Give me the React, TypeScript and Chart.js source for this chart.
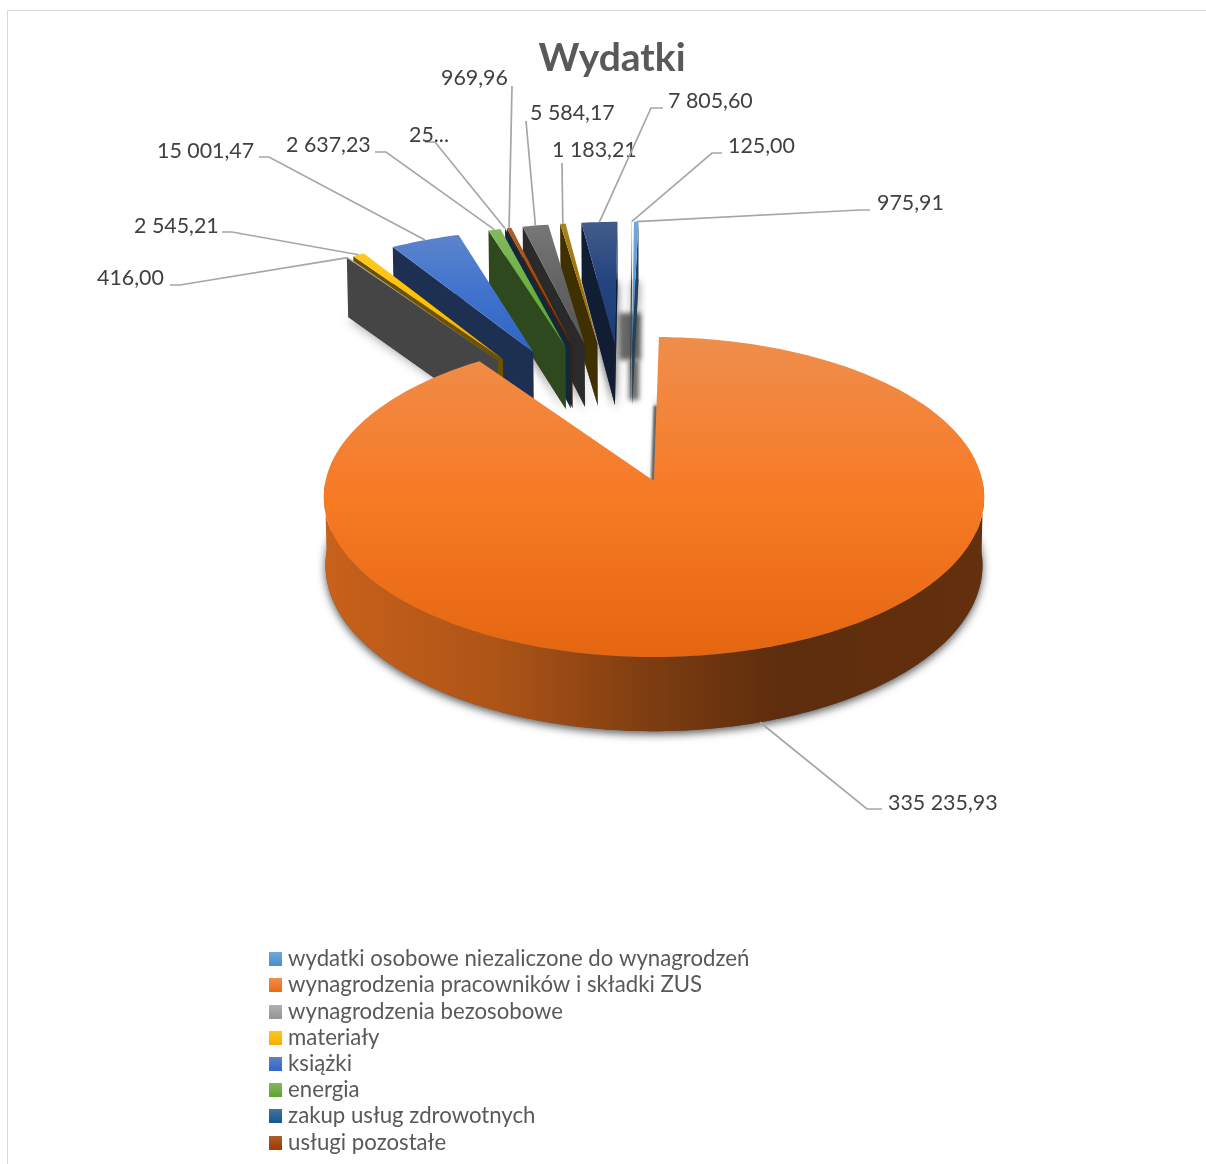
import React, { useEffect, useRef } from "react";
import { Chart, registerables } from "chart.js";

Chart.register(...registerables);

// ---- data ----
const categories = [
  "wydatki osobowe niezaliczone do wynagrodzeń",
  "wynagrodzenia pracowników i składki ZUS",
  "wynagrodzenia bezosobowe",
  "materiały",
  "książki",
  "energia",
  "zakup usług zdrowotnych",
  "usługi pozostałe",
];
const values = [975.91, 335235.93, 416.0, 2545.21, 15001.47, 2637.23, 25, 969.96, 5584.17, 1183.21, 7805.6, 125.0];
const valueLabels = [
  "975,91", "335 235,93", "416,00", "2 545,21", "15 001,47", "2 637,23",
  "25...", "969,96", "5 584,17", "1 183,21", "7 805,60", "125,00",
];
const sliceColors = [
  "#5B9BD5", "#ED7D31", "#A5A5A5", "#FFC000", "#4472C4", "#70AD47",
  "#255E91", "#9E480E", "#636363", "#997300", "#264478", "#B4C4C4",
];

// ---- style / layout ----
const FONT = "Lato, Carlito, Calibri, sans-serif";
const RADIUS = 300;
const EXPLODE_MAJOR = 0.207 * RADIUS;
const EXPLODE_MINOR = 0.76 * RADIUS;
const MINOR_SHIFT_X = -0.0185;
const offsets = values.map((_, i) => (i === 1 ? EXPLODE_MAJOR : EXPLODE_MINOR));
const DRAW_ORDER = [11, 10, 9, 8, 7, 6, 5, 4, 3, 2, 0, 1];
const labelLayout = [
  { tx: 877, ty: 203, x1: 870, x2: 860, y: 210 },
  { tx: 888, ty: 803, x1: 882, x2: 867, y: 809 },
  { tx: 97, ty: 278, x1: 170, x2: 180, y: 285 },
  { tx: 134, ty: 226, x1: 222, x2: 232, y: 232 },
  { tx: 157, ty: 151, x1: 259, x2: 269, y: 157 },
  { tx: 286, ty: 145, x1: 375, x2: 386, y: 152 },
  { tx: 409, ty: 135, x1: 425, x2: 435, y: 142 },
  { tx: 441, ty: 78, x1: 512, x2: 512, y: 86 },
  { tx: 530, ty: 113, x1: 526, x2: 526, y: 121 },
  { tx: 552, ty: 150, x1: 562, x2: 562, y: 163 },
  { tx: 668, ty: 101, x1: 663, x2: 651, y: 108 },
  { tx: 728, ty: 146, x1: 722, x2: 712, y: 153 },
];
const VIEW = { ox: 654, oy: 481, A: 328.5, B: 158.4, k: 0.1, m: 0.005, D: 68 };

type RGB = [number, number, number];
const hexToRgb = (h: string): RGB => [parseInt(h.slice(1, 3), 16), parseInt(h.slice(3, 5), 16), parseInt(h.slice(5, 7), 16)];
const css = (c: RGB) => `rgb(${c.map((v) => Math.max(0, Math.min(255, Math.round(v)))).join(",")})`;
const tint = (c: RGB, t: number): RGB => c.map((v) => v + (255 - v) * t) as RGB;
const shade = (c: RGB, f: number): RGB => c.map((v) => v * f) as RGB;
const saturate = (c: RGB, s: number): RGB => {
  const l = 0.3 * c[0] + 0.59 * c[1] + 0.11 * c[2];
  return c.map((v) => v + (v - l) * s) as RGB;
};

function project(X: number, Y: number, Z: number) {
  const w = 1 - VIEW.k * Y + VIEW.m * Z;
  return { x: VIEW.ox + (VIEW.A * X) / w, y: VIEW.oy + (VIEW.B * Y + VIEW.D * Z) / w };
}

function tracePath(ctx: CanvasRenderingContext2D, pts: { x: number; y: number }[]) {
  ctx.beginPath();
  pts.forEach((p, i) => (i ? ctx.lineTo(p.x, p.y) : ctx.moveTo(p.x, p.y)));
  ctx.closePath();
}

function area(pts: { x: number; y: number }[]) {
  let s = 0;
  pts.forEach((p, i) => {
    const q = pts[(i + 1) % pts.length];
    s += p.x * q.y - q.x * p.y;
  });
  return s;
}

function makeSwatch(hex: string) {
  const c = document.createElement("canvas");
  c.width = 14;
  c.height = 14;
  const g = c.getContext("2d")!;
  const rgb = hexToRgb(hex);
  const lg = g.createLinearGradient(0, 0, 0, 14);
  lg.addColorStop(0, css(tint(rgb, 0.13)));
  lg.addColorStop(1, css(shade(saturate(rgb, 0.3), 0.9)));
  g.fillStyle = lg;
  g.fillRect(0, 0, 14, 14);
  return c;
}

const pie3d = {
  id: "pie3d",
  afterLayout(chart: any) {
    const legend = chart.legend;
    if (legend) {
      const pad = legend.options.labels.padding;
      legend.left = 273 - pad;
      legend.top = 948 - pad;
      legend.right = 1206;
      legend.bottom = 1400;
      legend.width = legend.right - legend.left;
      legend.height = legend.bottom - legend.top;
    }
    if (chart.titleBlock) {
      chart.titleBlock.left += 9;
      chart.titleBlock.right += 9;
    }
  },
  beforeDatasetsDraw(chart: any) {
    const ctx: CanvasRenderingContext2D = chart.ctx;
    const arcs = chart.getDatasetMeta(0).data;
    const main = arcs[1];
    const mainMid = (main.startAngle + main.endAngle) / 2;
    const R = main.outerRadius;
    const cx = (-Math.cos(mainMid) * main.options.offset) / R;
    const cy = (-Math.sin(mainMid) * main.options.offset) / R;

    const geometry = (arc: any) => {
      const mid = (arc.startAngle + arc.endAngle) / 2;
      const ax = cx + (Math.cos(mid) * arc.options.offset) / R + (arc === main ? 0 : MINOR_SHIFT_X);
      const ay = cy + (Math.sin(mid) * arc.options.offset) / R;
      const r = arc.outerRadius / R;
      return {
        mid,
        at: (a: number, rr: number, z: number) => project(ax + rr * r * Math.cos(a), ay + rr * r * Math.sin(a), z),
      };
    };

    const arcPoints = (arc: any, z: number) => {
      const g = geometry(arc);
      const n = Math.max(2, Math.ceil((arc.endAngle - arc.startAngle) / 0.02));
      const pts = [];
      for (let i = 0; i <= n; i++) pts.push(g.at(arc.startAngle + ((arc.endAngle - arc.startAngle) * i) / n, 1, z));
      return pts;
    };

    ctx.save();
    // blurred shadow block visible above the notch
    ctx.filter = "blur(2.5px)";
    ctx.fillStyle = "#6a6a6a";
    ctx.fillRect(619, 313, 22, 47);
    ctx.fillStyle = "#707070";
    ctx.fillRect(629, 360, 10, 40);
    ctx.filter = "none";

    DRAW_ORDER.forEach((i) => {
      const arc = arcs[i];
      const g = geometry(arc);
      const base = hexToRgb(sliceColors[i]);
      const apex0 = g.at(g.mid, 0, 0);
      const apex1 = g.at(g.mid, 0, 1);
      const top = [apex0, ...arcPoints(arc, 0)];
      const bottom = [apex1, ...arcPoints(arc, 1)];

      // soft shadow cast from the bottom face
      ctx.save();
      ctx.shadowColor = "rgba(0,0,0,0.65)";
      ctx.shadowBlur = 8;
      ctx.shadowOffsetY = 3;
      ctx.fillStyle = "#555";
      tracePath(ctx, bottom);
      ctx.fill();
      ctx.restore();
      if (i === 1) {
        // soft dark edge next to the notch
        ctx.save();
        ctx.filter = "blur(1px)";
        ctx.strokeStyle = "#5f5f5f";
        ctx.lineWidth = 4;
        ctx.beginPath();
        const e = g.at(arc.startAngle, 0.5, 0);
        ctx.moveTo(apex0.x - 1, apex0.y);
        ctx.lineTo(e.x - 1, e.y);
        ctx.stroke();
        ctx.restore();
      }

      // radial walls
      const startWall = [apex0, g.at(arc.startAngle, 1, 0), g.at(arc.startAngle, 1, 1), apex1];
      const endWall = [apex0, g.at(arc.endAngle, 1, 0), g.at(arc.endAngle, 1, 1), apex1];
      ctx.fillStyle = css(shade(base, 0.42));
      if (area(startWall) < 0) {
        tracePath(ctx, startWall);
        ctx.fill();
      }
      if (area(endWall) > 0) {
        tracePath(ctx, endWall);
        ctx.fill();
      }

      // outer wall, front part only
      const n = Math.ceil((arc.endAngle - arc.startAngle) / 0.01);
      const upper = [];
      const lower = [];
      for (let s = 0; s <= n; s++) {
        const a = arc.startAngle + ((arc.endAngle - arc.startAngle) * s) / n;
        if (Math.sin(a) > 0.02) {
          upper.push(g.at(a, 1, 0));
          lower.push(g.at(a, 1, 1));
        }
      }
      if (upper.length > 1) {
        const lg = ctx.createLinearGradient(327, 0, 985, 0);
        [[0, 0.8], [0.26, 0.69], [0.49, 0.5], [0.69, 0.37], [1, 0.4]].forEach(([p, f]) =>
          lg.addColorStop(p, css(shade(saturate(base, 0.15), f)))
        );
        ctx.fillStyle = lg;
        tracePath(ctx, [...upper, ...lower.reverse()]);
        ctx.fill();
      }

      // top face
      const ys = top.map((p) => p.y);
      const tg = ctx.createLinearGradient(0, Math.min(...ys), 0, Math.max(...ys));
      tg.addColorStop(0, css(tint(base, 0.13)));
      tg.addColorStop(0.5, css(saturate(base, 0.12)));
      tg.addColorStop(1, css(shade(saturate(base, 0.3), 0.87)));
      ctx.fillStyle = tg;
      tracePath(ctx, top);
      ctx.fill();
    });

    // data labels with leader lines
    ctx.font = `21.4px ${FONT}`;
    ctx.textBaseline = "middle";
    ctx.textAlign = "left";
    labelLayout.forEach((l, i) => {
      const g = geometry(arcs[i]);
      const anchor = g.at(g.mid, 1, i === 1 ? 1 : 0);
      ctx.strokeStyle = "#a6a6a6";
      ctx.lineWidth = 1.7;
      ctx.beginPath();
      ctx.moveTo(l.x1, l.y);
      ctx.lineTo(l.x2, l.y);
      ctx.lineTo(anchor.x, anchor.y);
      ctx.stroke();
      ctx.fillStyle = "#404040";
      ctx.fillText(valueLabels[i], l.tx, l.ty);
    });
    ctx.restore();
    return false;
  },
};

export default function App() {
  const ref = useRef<HTMLCanvasElement | null>(null);
  useEffect(() => {
    const chart = new Chart(ref.current!, {
      type: "pie",
      data: {
        labels: categories,
        datasets: [{ data: values, backgroundColor: sliceColors, borderWidth: 0, offset: offsets }],
      },
      options: {
        animation: false,
        responsive: false,
        radius: RADIUS,
        layout: { padding: 0 },
        plugins: {
          tooltip: { enabled: false },
          title: {
            display: true,
            text: "Wydatki",
            color: "#595959",
            font: { family: FONT, size: 39, weight: "bold" },
            padding: { top: 35.5, bottom: 4 },
          },
          legend: {
            position: "chartArea",
            align: "start",
            labels: {
              color: "#595959",
              font: { family: FONT, size: 22.2 },
              padding: 4,
              usePointStyle: true,
              pointStyleWidth: 4,
              boxHeight: 14,
              generateLabels: () =>
                categories.map((text, i) => ({
                  text,
                  index: i,
                  fillStyle: sliceColors[i],
                  strokeStyle: sliceColors[i],
                  lineWidth: 0,
                  hidden: false,
                  pointStyle: makeSwatch(sliceColors[i]),
                  fontColor: "#595959",
                })),
            },
          },
        },
      } as any,
      plugins: [pie3d as any],
    });
    return () => chart.destroy();
  }, []);
  return (
    <div style={{ position: "fixed", inset: 0, overflow: "hidden", background: "#fff" }}>
      <div
        style={{
          position: "absolute",
          left: 7,
          top: 10,
          width: 1400,
          height: 1400,
          border: "1.5px solid #d9d9d9",
          boxSizing: "border-box",
        }}
      />
      <canvas
        ref={ref}
        width={1206}
        height={1164}
        style={{ position: "absolute", left: 0, top: 0, width: 1206, height: 1164 }}
      />
    </div>
  );
}
